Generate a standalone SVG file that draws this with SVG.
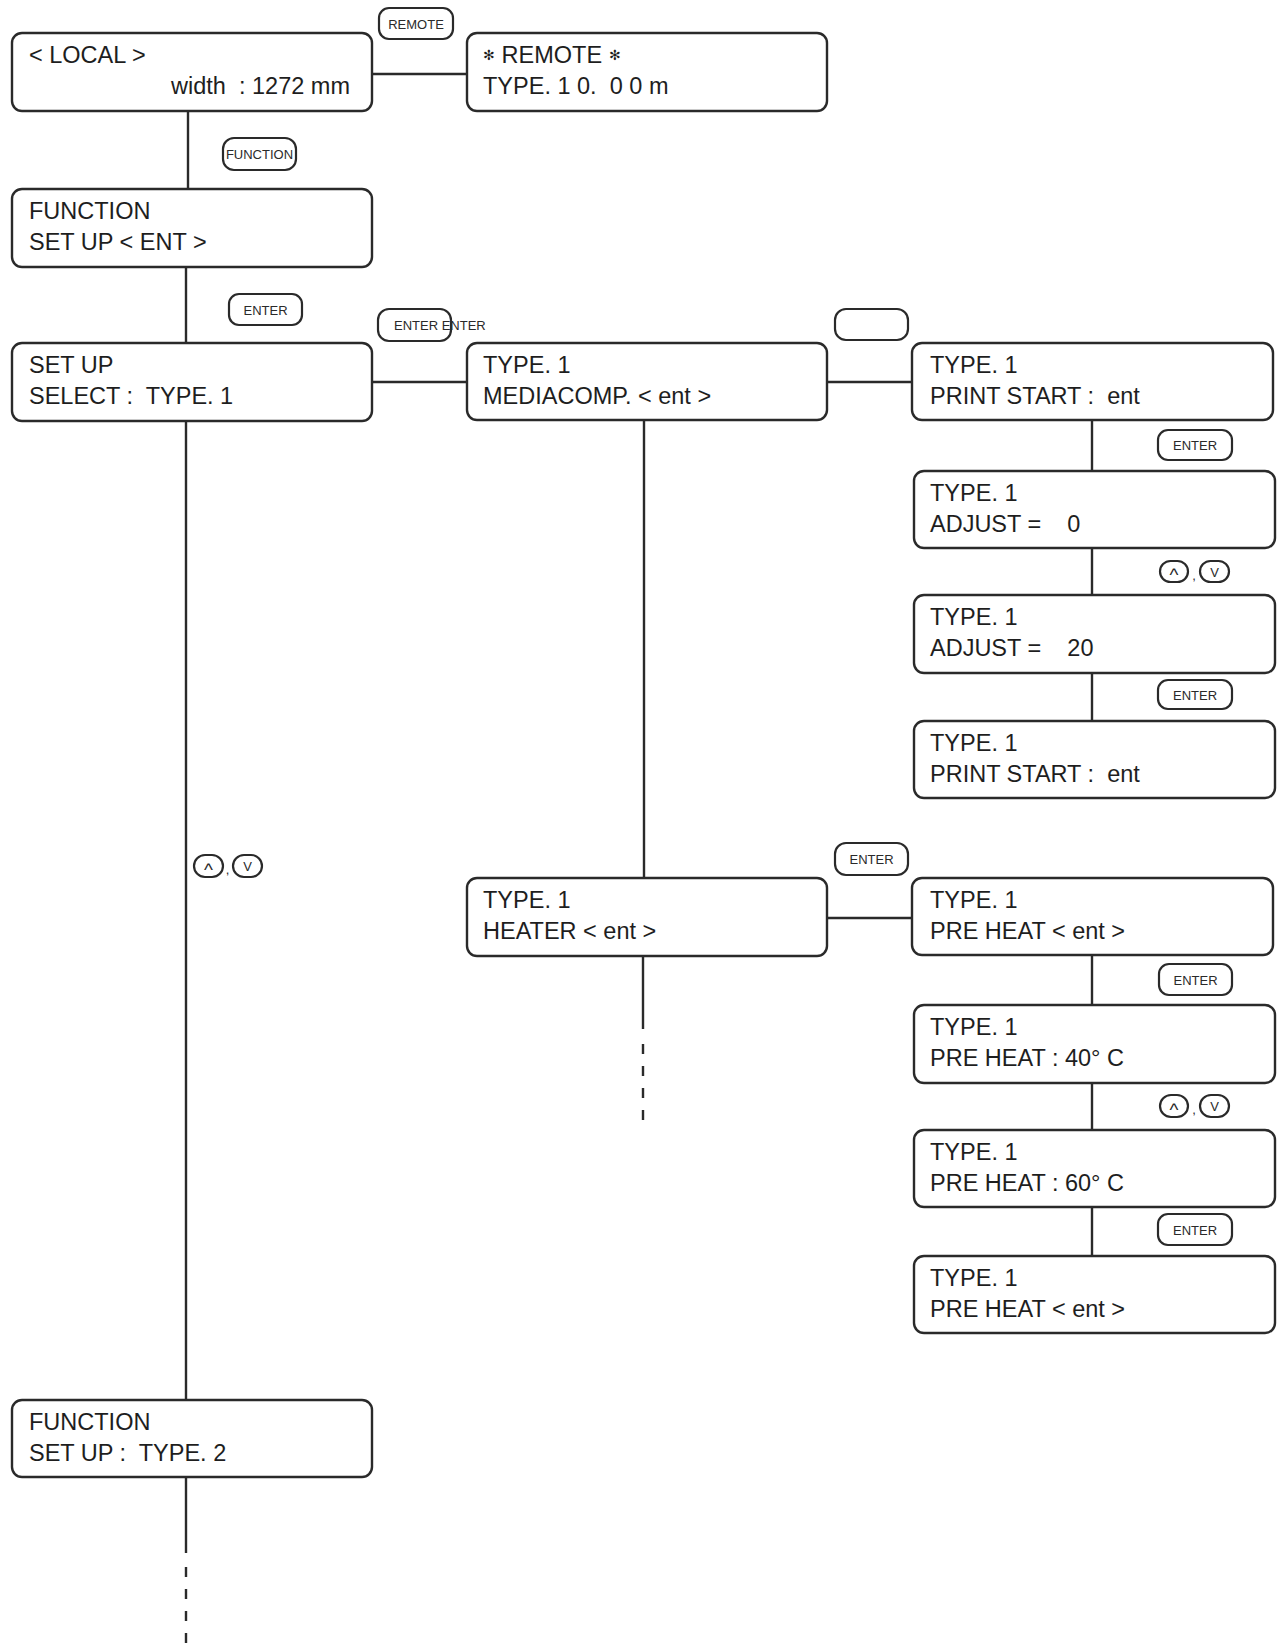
<svg xmlns="http://www.w3.org/2000/svg" width="1282" height="1648" viewBox="0 0 1282 1648">
<style>
.box{fill:#fff;stroke:#2a2a2a;stroke-width:2.4}
.key{fill:#fff;stroke:#2a2a2a;stroke-width:2.2}
.t{font-family:"Liberation Sans",Arial,sans-serif;font-size:23.5px;fill:#1e1e1e}
.k{font-family:"Liberation Sans",Arial,sans-serif;font-size:13px;fill:#2a2a2a;text-anchor:middle}
.c{font-family:"Liberation Sans",Arial,sans-serif;font-size:19px;fill:#2a2a2a;text-anchor:middle}
.ln{stroke:#2a2a2a;stroke-width:2.4;fill:none}
.dash{stroke:#2a2a2a;stroke-width:2.4;fill:none;stroke-dasharray:10 12}
</style>
<rect width="1282" height="1648" fill="#fff"/>
<g id="connectors">
<line class="ln" x1="372" y1="74" x2="467" y2="74"/>
<line class="ln" x1="188" y1="111" x2="188" y2="188"/>
<line class="ln" x1="186" y1="267" x2="186" y2="343"/>
<line class="ln" x1="372" y1="382" x2="467" y2="382"/>
<line class="ln" x1="827" y1="382" x2="912" y2="382"/>
<line class="ln" x1="1092" y1="420" x2="1092" y2="471"/>
<line class="ln" x1="1092" y1="548" x2="1092" y2="595"/>
<line class="ln" x1="1092" y1="673" x2="1092" y2="721"/>
<line class="ln" x1="644" y1="420" x2="644" y2="878"/>
<line class="ln" x1="186" y1="421" x2="186" y2="1400"/>
<line class="ln" x1="827" y1="918" x2="912" y2="918"/>
<line class="ln" x1="1092" y1="955" x2="1092" y2="1005"/>
<line class="ln" x1="1092" y1="1083" x2="1092" y2="1130"/>
<line class="ln" x1="1092" y1="1207" x2="1092" y2="1256"/>
<line class="ln" x1="643" y1="956" x2="643" y2="1029"/>
<line class="dash" x1="643" y1="1044" x2="643" y2="1121"/>
<line class="ln" x1="186" y1="1477" x2="186" y2="1553"/>
<line class="dash" x1="186" y1="1567" x2="186" y2="1646"/>
</g>
<g id="key-remote"><rect class="key" x="379" y="8" width="74" height="31" rx="10"/><text class="k" x="416" y="28.5">REMOTE</text></g>
<g id="key-function"><rect class="key" x="223" y="138" width="73" height="32" rx="11"/><text class="k" x="259.5" y="159">FUNCTION</text></g>
<g id="key-enter1"><rect class="key" x="229" y="294" width="73" height="31" rx="10"/><text class="k" x="265.5" y="314.5">ENTER</text></g>
<g id="key-enter2"><rect class="key" x="378" y="309" width="73" height="32" rx="11"/><text class="k" x="394" y="329.5" style="text-anchor:start">ENTER ENTER</text></g>
<g id="key-blank"><rect class="key" x="835" y="309" width="73" height="31" rx="11"/></g>
<g id="key-enter3"><rect class="key" x="1158" y="430" width="74" height="30" rx="10"/><text class="k" x="1195" y="450">ENTER</text></g>
<g id="key-updown1"><rect class="key" x="1160" y="561" width="28" height="21" rx="10.5"/><text class="c" x="1174" y="581">^</text><text class="k" x="1194" y="580">,</text><rect class="key" x="1200" y="561" width="29" height="21" rx="10.5"/><text class="k" x="1214.5" y="576.5">V</text></g>
<g id="key-enter4"><rect class="key" x="1158" y="680" width="74" height="29" rx="10"/><text class="k" x="1195" y="699.5">ENTER</text></g>
<g id="key-updown-left"><rect class="key" x="194" y="855" width="29" height="22" rx="11"/><text class="c" x="208.5" y="875.5">^</text><text class="k" x="227.5" y="874">,</text><rect class="key" x="233" y="855" width="29" height="22" rx="11"/><text class="k" x="247.5" y="871">V</text></g>
<g id="key-enter5"><rect class="key" x="835" y="843" width="73" height="32" rx="11"/><text class="k" x="871.5" y="864">ENTER</text></g>
<g id="key-enter6"><rect class="key" x="1159" y="964" width="73" height="31" rx="10"/><text class="k" x="1195.5" y="984.5">ENTER</text></g>
<g id="key-updown2"><rect class="key" x="1160" y="1095" width="28" height="22" rx="11"/><text class="c" x="1174" y="1115.5">^</text><text class="k" x="1194" y="1114">,</text><rect class="key" x="1200" y="1095" width="29" height="22" rx="11"/><text class="k" x="1214.5" y="1111">V</text></g>
<g id="key-enter7"><rect class="key" x="1158" y="1214" width="74" height="31" rx="10"/><text class="k" x="1195" y="1234.5">ENTER</text></g>
<g id="node-local"><rect class="box" x="12" y="33" width="360" height="78" rx="10"/><text class="t" x="29" y="63">&lt; LOCAL &gt;</text><text class="t" x="350" y="94" text-anchor="end" xml:space="preserve">width  : 1272 mm</text></g>
<g id="node-remote"><rect class="box" x="467" y="33" width="360" height="78" rx="10"/><text class="t" x="483" y="63"><tspan font-size="14" dy="-3">✻</tspan><tspan dy="3"> REMOTE </tspan><tspan font-size="14" dy="-3">✻</tspan></text><text class="t" x="483" y="94" xml:space="preserve">TYPE. 1 0.  0 0 m</text></g>
<g id="node-function"><rect class="box" x="12" y="189" width="360" height="78" rx="10"/><text class="t" x="29" y="219">FUNCTION</text><text class="t" x="29" y="250">SET UP &lt; ENT &gt;</text></g>
<g id="node-setup"><rect class="box" x="12" y="343" width="360" height="78" rx="10"/><text class="t" x="29" y="373">SET UP</text><text class="t" x="29" y="404" xml:space="preserve">SELECT :  TYPE. 1</text></g>
<g id="node-mediacomp"><rect class="box" x="467" y="343" width="360" height="77" rx="10"/><text class="t" x="483" y="373">TYPE. 1</text><text class="t" x="483" y="404">MEDIACOMP. &lt; ent &gt;</text></g>
<g id="node-printstart1"><rect class="box" x="912" y="343" width="361" height="77" rx="10"/><text class="t" x="930" y="373">TYPE. 1</text><text class="t" x="930" y="404" xml:space="preserve">PRINT START :  ent</text></g>
<g id="node-adjust0"><rect class="box" x="914" y="471" width="361" height="77" rx="10"/><text class="t" x="930" y="501">TYPE. 1</text><text class="t" x="930" y="532" xml:space="preserve">ADJUST =    0</text></g>
<g id="node-adjust20"><rect class="box" x="914" y="595" width="361" height="78" rx="10"/><text class="t" x="930" y="625">TYPE. 1</text><text class="t" x="930" y="656" xml:space="preserve">ADJUST =    20</text></g>
<g id="node-printstart2"><rect class="box" x="914" y="721" width="361" height="77" rx="10"/><text class="t" x="930" y="751">TYPE. 1</text><text class="t" x="930" y="782" xml:space="preserve">PRINT START :  ent</text></g>
<g id="node-heater"><rect class="box" x="467" y="878" width="360" height="78" rx="10"/><text class="t" x="483" y="908">TYPE. 1</text><text class="t" x="483" y="939">HEATER &lt; ent &gt;</text></g>
<g id="node-preheat1"><rect class="box" x="912" y="878" width="361" height="77" rx="10"/><text class="t" x="930" y="908">TYPE. 1</text><text class="t" x="930" y="939">PRE HEAT &lt; ent &gt;</text></g>
<g id="node-preheat40"><rect class="box" x="914" y="1005" width="361" height="78" rx="10"/><text class="t" x="930" y="1035">TYPE. 1</text><text class="t" x="930" y="1066">PRE HEAT : 40° C</text></g>
<g id="node-preheat60"><rect class="box" x="914" y="1130" width="361" height="77" rx="10"/><text class="t" x="930" y="1160">TYPE. 1</text><text class="t" x="930" y="1191">PRE HEAT : 60° C</text></g>
<g id="node-preheat2"><rect class="box" x="914" y="1256" width="361" height="77" rx="10"/><text class="t" x="930" y="1286">TYPE. 1</text><text class="t" x="930" y="1317">PRE HEAT &lt; ent &gt;</text></g>
<g id="node-function2"><rect class="box" x="12" y="1400" width="360" height="77" rx="10"/><text class="t" x="29" y="1430">FUNCTION</text><text class="t" x="29" y="1461" xml:space="preserve">SET UP :  TYPE. 2</text></g>
</svg>
